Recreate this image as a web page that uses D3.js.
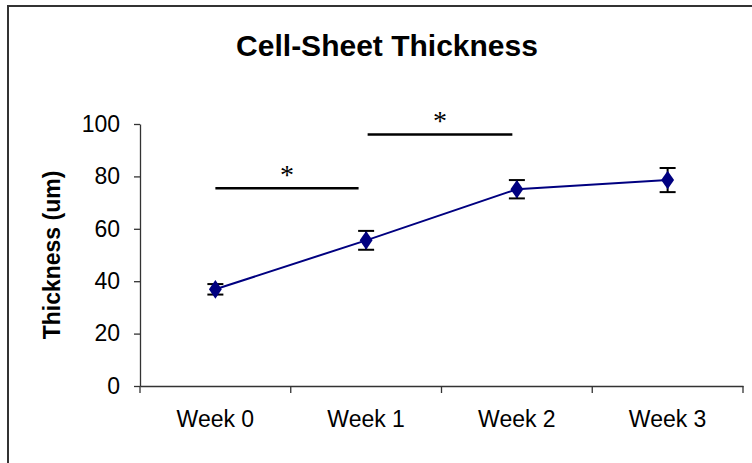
<!DOCTYPE html>
<html>
<head>
<meta charset="utf-8">
<script src="https://cdn.jsdelivr.net/npm/d3@7"></script>
<style>
  body { margin: 0; background: #fff; }
  svg text { font-family: "Liberation Sans", Arial, sans-serif; fill: #000; }
</style>
</head>
<body>
<div id="vizArea"></div>
<script>
const weeks = ["Week 0", "Week 1", "Week 2", "Week 3"];
const thickness = [36.9, 55.6, 75.1, 78.6];
const errors = [2.0, 3.6, 3.5, 4.6];
const yTicks = [0, 20, 40, 60, 80, 100];

// significance bars: start/end in category index, height in um
const sigFrom = [0, 1.01];
const sigTo = [0.95, 1.97];
const sigLevel = [75.5, 96];
const sigLabel = ["*", "*"];

const W = 752, H = 463;
const margin = {top: 124, right: 9, bottom: 77, left: 140},
    width = W - margin.left - margin.right,
    height = H - margin.top - margin.bottom;

const root = d3.select("#vizArea")
    .append("svg")
    .attr("width", W)
    .attr("height", H);

// chart frame (only left / top edges fall inside the picture)
root.append("rect")
    .attr("x", 8).attr("y", 6)
    .attr("width", 800).attr("height", 500)
    .attr("fill", "none")
    .attr("stroke", "#333")
    .attr("stroke-width", 2);

root.append("text")
    .attr("x", 387).attr("y", 56)
    .attr("text-anchor", "middle")
    .style("font-size", "30px")
    .style("font-weight", "bold")
    .text("Cell-Sheet Thickness");

const svg = root.append("g")
    .attr("transform", "translate(" + margin.left + "," + margin.top + ")");

const x = d3.scaleBand()
    .domain(weeks)
    .range([0, width]);

const xi = d3.scaleLinear()
    .domain([0, weeks.length - 1])
    .range([x(weeks[0]) + x.bandwidth() / 2, x(weeks[weeks.length - 1]) + x.bandwidth() / 2]);

const y = d3.scaleLinear()
    .domain([0, 100])
    .range([height, 0]);

// Y axis
const yAxis = svg.append("g")
    .call(d3.axisLeft(y).tickValues(yTicks).tickSize(6).tickSizeOuter(0).tickPadding(14));
yAxis.selectAll("text").style("font-size", "23px");
yAxis.selectAll("line, path").attr("stroke", "#333").attr("stroke-width", 1.3);

// X axis with ticks at category boundaries
const xAxis = svg.append("g")
    .attr("transform", `translate(0,${height})`)
    .call(d3.axisBottom(x).tickSize(0).tickSizeOuter(0).tickPadding(25));
xAxis.selectAll("text").style("font-size", "23px");
xAxis.select("path").attr("stroke", "#333").attr("stroke-width", 1.3);
xAxis.selectAll(".boundary")
    .data(weeks.concat(["end"]))
    .join("line")
    .attr("class", "boundary")
    .attr("x1", (d, i) => i * x.bandwidth())
    .attr("x2", (d, i) => i * x.bandwidth())
    .attr("y1", 0).attr("y2", 7)
    .attr("stroke", "#333")
    .attr("stroke-width", 1.3);

// Y axis title
root.append("text")
    .attr("transform", "translate(60,255) rotate(-90)")
    .attr("text-anchor", "middle")
    .style("font-size", "23px")
    .style("font-weight", "bold")
    .text("Thickness (um)");

// series line
svg.append("path")
    .datum(thickness)
    .attr("fill", "none")
    .attr("stroke", "#000080")
    .attr("stroke-width", 2)
    .attr("d", d3.line()
        .x((d, i) => xi(i))
        .y(d => y(d)));

// error bars
const eb = svg.selectAll(".err")
    .data(thickness)
    .join("g")
    .attr("class", "err")
    .attr("stroke", "#000")
    .attr("stroke-width", 2);
eb.append("line")
    .attr("x1", (d, i) => xi(i)).attr("x2", (d, i) => xi(i))
    .attr("y1", (d, i) => y(d + errors[i])).attr("y2", (d, i) => y(d - errors[i]));
eb.append("line")
    .attr("x1", (d, i) => xi(i) - 8).attr("x2", (d, i) => xi(i) + 8)
    .attr("y1", (d, i) => y(d + errors[i])).attr("y2", (d, i) => y(d + errors[i]));
eb.append("line")
    .attr("x1", (d, i) => xi(i) - 8).attr("x2", (d, i) => xi(i) + 8)
    .attr("y1", (d, i) => y(d - errors[i])).attr("y2", (d, i) => y(d - errors[i]));

// diamond markers
svg.selectAll(".pt")
    .data(thickness)
    .join("path")
    .attr("class", "pt")
    .attr("d", d3.symbol().type(d3.symbolDiamond).size(100))
    .attr("transform", (d, i) => `translate(${xi(i)},${y(d)}) scale(1.2,1)`)
    .attr("fill", "#000080");

// significance bars
svg.selectAll(".sig")
    .data(sigLevel)
    .join("line")
    .attr("class", "sig")
    .attr("x1", (d, i) => xi(sigFrom[i]))
    .attr("x2", (d, i) => xi(sigTo[i]))
    .attr("y1", d => y(d)).attr("y2", d => y(d))
    .attr("stroke", "#000")
    .attr("stroke-width", 2.5);

svg.selectAll(".star")
    .data(sigLevel)
    .join("text")
    .attr("class", "star")
    .attr("x", (d, i) => (xi(sigFrom[i]) + xi(sigTo[i])) / 2)
    .attr("y", d => y(d) - 4)
    .attr("text-anchor", "middle")
    .style("font-family", "'Liberation Serif', serif")
    .style("font-size", "28px")
    .text((d, i) => sigLabel[i]);
</script>
</body>
</html>
